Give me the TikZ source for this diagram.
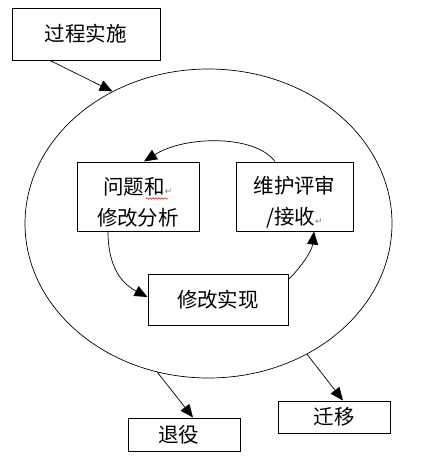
\documentclass[tikz,border=0pt]{standalone}
\usepackage{fontspec}
\newfontfamily\cjk{Noto Sans CJK SC}
\newfontfamily\symf{DejaVu Sans}
\usetikzlibrary{arrows.meta,shapes.geometric,calc,decorations.pathmorphing}
\tikzset{
  box/.style={draw, line width=1pt, inner sep=0pt, font=\cjk\fontsize{20.5}{31}\selectfont, align=center},
  arr/.style={line width=0.7pt, -{Triangle[length=13pt,width=11pt]}},
  ring/.style={draw, ellipse, line width=0.7pt, inner sep=0pt, minimum width=367pt, minimum height=309pt},
}
\newcommand{\pmark}{{\symf\fontsize{9}{9}\selectfont\textcolor{gray}{↵}}}
\begin{document}
\begin{tikzpicture}[x=1pt,y=-1pt]
\useasboundingbox (0,0) rectangle (421,459);
\node[ring] (loop) at (208.5,223.5) {};
\node[box, minimum width=148pt, minimum height=52pt] (gc) at (86,34) {过程实施};
\node[box, minimum width=122pt, minimum height=69pt] (wt) at (138,196.5) {};
\node[box, minimum width=117pt, minimum height=69pt] (wh) at (294.5,196.5) {};
\node[box, minimum width=140pt, minimum height=51pt] (xg) at (218,299.5) {修改实现};
\node[box, minimum width=112pt, minimum height=33pt] (ty) at (184,434.5) {\hspace*{-11pt}退役};
\node[box, minimum width=112pt, minimum height=32pt] (qy) at (334,417) {\raisebox{-3pt}{迁移}};
% box texts
\node[font=\cjk\fontsize{20.5}{31}\selectfont, inner sep=0pt, align=center] (wtt) at ([yshift=-6pt]wt.center) {问题和\pmark\\修改分析};
\node[font=\cjk\fontsize{20.5}{31}\selectfont, inner sep=0pt, align=center] (wht) at ([yshift=-6pt]wh.center) {维护评审\\/接收\pmark};
% connectors
\draw[arr] ([xshift=-36pt]gc.south) -- (loop.126.3);
\draw[arr] ([xshift=-19.5pt]wh.north) .. controls +(-20,-27) and +(41,-26) .. ([xshift=6pt]wt.north);
\draw[arr] ([xshift=-30pt]wt.south) .. controls +(0,39) and +(-23,-12) .. ([yshift=2.5pt]xg.west);
\draw[arr] ([yshift=-6pt]xg.north east) .. controls +(14,-14) and +(-2,19) .. ([xshift=19.5pt]wh.south);
\draw[arr] (loop.251.3) -- ([xshift=9pt]ty.north);
\draw[arr] (loop.307.8) -- ([xshift=9pt]qy.north);
% spell-check underline
\draw[red, line width=0.5pt, decorate, decoration={snake, amplitude=0.8pt, segment length=3pt}] (146,198.5) -- (168,198.5);
\end{tikzpicture}
\end{document}
